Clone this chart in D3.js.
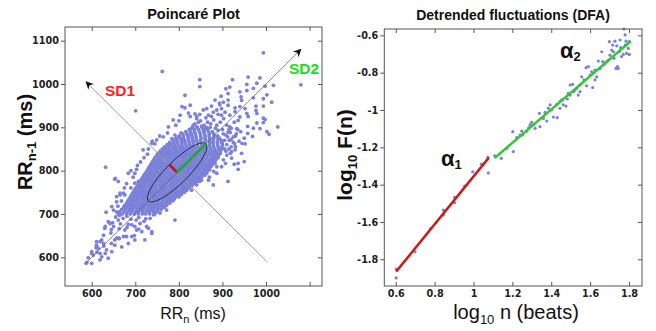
<!DOCTYPE html>
<html>
<head>
<meta charset="utf-8">
<script src="https://cdn.jsdelivr.net/npm/d3@7"></script>
<style>
	body { margin: 0; background: #fff; }
	text { font-family: 'Liberation Sans', Arial, sans-serif; fill: #111; }
	.tick text { font-family: 'DejaVu Sans', Verdana, sans-serif; font-weight: bold; font-size: 9.7px; fill: #222; }
	.tick line { stroke: #555; }
</style>
</head>
<body>
<svg id="chart" width="656" height="331"></svg>
<script>
// ---- Poincare plot data (RR_n, RR_n+1 in ms) ----
const rrTicks = [600, 700, 800, 900, 1000, 1100];
const rrTickLabels = ['600', '700', '800', '900', '1000', ''];

// dense core, one row per RR_n+1 value
const rrCoreRows = [
	[900, [831,842,853,863]],
	[895, [824,835,845,856,866]],
	[890, [816,826,836,847,857,868,877]],
	[885, [809,818,829,838,849,859,870,880]],
	[880, [801,810,820,830,839,850,860,869,881,889]],
	[875, [793,803,811,822,831,840,851,860,871,880,893]],
	[870, [786,795,805,813,822,832,841,850,861,870,879,890,898]],
	[865, [779,788,797,806,814,824,833,842,851,860,870,878,888,899]],
	[860, [773,781,790,798,807,816,825,833,843,852,861,870,879,889,900]],
	[855, [767,775,784,792,801,809,818,827,835,844,853,862,871,880,890,899]],
	[850, [762,770,778,787,795,804,812,821,830,838,847,856,864,873,882,891,898]],
	[845, [757,765,773,781,790,798,807,815,824,832,841,850,858,867,876,885,895]],
	[840, [752,760,769,776,785,793,801,810,818,827,835,844,853,861,870,879,887,894]],
	[835, [749,757,765,773,781,790,797,806,814,823,831,840,848,857,865,874,883,891]],
	[830, [745,754,761,769,778,785,793,802,809,817,826,833,841,850,857,865,874,881,888]],
	[825, [742,750,758,766,774,783,790,798,807,814,822,831,838,846,855,862,870,878,885]],
	[820, [739,747,755,763,772,779,787,796,803,811,820,827,835,844,851,859,868,875,882]],
	[815, [736,744,752,760,768,777,784,792,801,808,816,825,832,840,849,856,864,872,878]],
	[810, [733,741,749,757,766,773,781,790,797,805,814,821,829,838,845,853,862,869,874]],
	[805, [730,738,746,754,762,771,778,786,795,802,810,819,826,834,843,850,858,866,870]],
	[800, [727,735,743,751,760,767,775,784,791,799,808,815,823,832,839,847,856,862,866]],
	[795, [724,732,740,748,756,765,772,780,789,796,804,813,820,828,837,844,852,859,862]],
	[790, [720,728,736,744,753,760,768,777,784,792,801,808,816,825,832,840,849,856]],
	[785, [717,725,733,741,749,758,765,773,782,789,797,806,813,821,830,837,845,852]],
	[780, [714,722,730,738,747,754,762,771,778,786,795,802,810,819,826,834,842,847]],
	[775, [711,719,727,735,743,752,759,767,776,783,791,800,807,815,824,831,838,842]],
	[770, [708,716,724,733,740,748,757,764,772,781,788,796,805,812,820,829,836]],
	[765, [705,713,721,730,737,745,754,761,769,778,785,793,802,809,817,826,830]],
	[760, [701,709,717,725,734,741,749,758,765,773,782,789,797,806,813,820,824]],
	[755, [698,706,714,722,731,738,746,755,762,770,779,786,794,803,810,818]],
	[750, [695,703,711,718,727,735,742,751,759,766,775,783,790,799,807,812]],
	[745, [692,700,708,716,723,732,740,747,756,764,771,780,788,795,803,806]],
	[740, [689,697,704,713,721,728,737,745,752,761,769,776,785,793,800]],
	[735, [686,694,702,709,718,726,733,742,750,757,766,774,781,790]],
	[730, [683,691,699,706,715,723,730,739,747,754,763,771,779,786]],
	[725, [680,688,695,704,712,719,728,736,743,752,760,768,779]],
	[720, [676,685,692,700,709,716,724,733,741,748,757,765,772]],
	[715, [673,681,690,697,706,714,721,730,738,745,754,762,767]],
	[710, [668,677,686,694,703,711,718,727,735,742,751,759]],
	[705, [664,674,683,691,700,708,717,725,733,741,751]],
	[700, [661,670,680,689,698,707,716,724,733,745]]
];

const rrUpper = [
	[762,1029],[701,938],[814,974],[848,1010],[848,994],[814,945],[826,951],[822,933],[837,931],[841,920],[800,915],[793,905],
	[994,1072],[923,1010],[959,1016],[986,1014],[1080,998],[1017,997],[908,989],[917,993],[956,999],[956,985],[998,995],
	[897,972],[913,978],[940,982],[943,970],[944,962],[971,968],[994,966],[1013,958],[893,956],[902,958],[913,951],[929,945],
	[952,943],[977,949],[994,949],[864,943],[879,935],[890,930],[898,943],[906,935],[940,924],[959,925],[979,932],[977,939],
	[998,918],[936,916],[979,910],[958,902],[986,897],[1027,901],[1007,884],[969,879],[927,912],[933,897],[917,901],[913,889],
	[979,1002],[971,990],[1002,890],[994,921],[994,911],[971,898],[958,886],[1002,975],[913,963],[894,952],[883,963],
	[868,928],[856,940],[841,925],[826,925],[807,948],[803,928],[787,917],[776,901],[764,878],[749,871],[738,863],
	[940,948],[956,932],[929,936],[917,928],[898,928],[887,940],[875,949],
	[739,868],[774,887],[784,874],[791,882],[799,878],[805,887],[810,874],[822,882],[833,905],[837,908],[829,897],[841,901],[845,912],
	[850,915],[858,905],[866,912],[872,900],[880,917],[887,905],[895,912],[903,920],[910,905],[920,898],[875,925],[862,922],
	[848,930],[900,895],[890,893],[908,882],[918,888],[925,878],[932,885],[942,890],[950,875],[938,868],[928,862],[916,870],
	[860,895],[852,903],[873,908],[884,898]
];

const rrRight = [
	[945,863],[952,862],[950,821],[927,815],[936,803],[913,775],[907,817],[887,809],[887,794],[898,809],[921,844],[868,778],
	[852,778],[929,848],[910,836],[902,825],[883,817],[871,802],[860,790],[845,782],[936,817],[921,829],[944,840],[864,794],
	[879,767],[848,775],[841,767],[829,755],[814,751],[920,855],[915,850],[895,840],[905,850],[890,830],[880,798],[870,785],
	[905,870],[912,878],[898,865],[920,872],[930,880],[910,860],[925,865],[902,885],[915,895],[935,895],[890,875],[908,845],
	[918,840],[930,855]
];

const rrLowerRight = [
	[791,686],[772,725],[787,732],[749,717],[757,702],[734,690],[772,709],[738,659],[726,671],[711,678],[703,663],[692,648],
	[800,740],[808,760],[795,750],[822,768],[785,742],[760,720],[745,705],[768,735],[778,745],[815,775],[830,782],[825,790]
];

const rrLeft = [
	[632,808],[653,780],[661,775],[654,782],[684,794],[703,803],[699,794],[707,775],[699,771],[676,744],[665,744],[657,728],
	[657,740],[665,748],[650,709],[633,704],[673,748],[646,717],[657,705],[718,848],[715,755],[707,740],[690,760],[680,770],
	[695,785],[712,820],[720,830],[730,850],[705,812],[690,800],[675,760],[668,730],[660,718],[745,862],[756,880],[728,838]
];

const rrTail = [
	[661,686],[638,682],[650,671],[676,663],[692,675],[715,659],[730,667],[738,655],[722,640],[699,640],[684,632],[669,624],
	[653,640],[646,613],[631,609],[638,598],[642,678],[630,667],[627,651],[619,636],[611,628],[600,609],[592,599],[587,586],
	[600,586],[604,605],[600,613],[615,621],[611,636],[623,640],[627,632],[631,671],[673,648],[657,644],[653,628],[634,617],
	[619,609],[619,594],[623,601],[589,588],
	[655,693],[664,697],[672,690],[681,695],[690,688],[708,692],[724,689],[742,698],[648,680],[666,677],[684,676],[702,686],
	[720,683],[645,664],[663,666],[681,669],[699,671],[708,665],[644,656],[662,645],[680,648],[698,650],[645,632],[663,643],
	[610,622],[628,626],[612,612]
];

const rrCenter = 796;
const sd1 = 25;
const sd2 = 93;
const identityEnds = [585, 1080];
const perpEnds = [[1003, 589], [587, 1005]];

// ---- DFA data (log10 n, log10 F(n)) ----
const dfaXTicks = [0.6, 0.8, 1, 1.2, 1.4, 1.6, 1.8];
const dfaYTicks = [-0.6, -0.8, -1, -1.2, -1.4, -1.6, -1.8];

const alpha1Pts = [
	[0.602,-1.852],[0.602,-1.900],[0.699,-1.760],[0.778,-1.636],[0.845,-1.536],[0.845,-1.563],[0.903,-1.468],
	[0.903,-1.497],[0.954,-1.408],[0.996,-1.331],[1.041,-1.290],[1.076,-1.337],[1.074,-1.252]
];

const alpha2Pts = [
	[1.109,-1.245],[1.143,-1.259],[1.171,-1.205],[1.205,-1.223],[1.202,-1.116],[1.222,-1.148],[1.248,-1.113],[1.253,-1.134],
	[1.274,-1.113],[1.284,-1.095],[1.299,-1.066],[1.308,-1.080],[1.317,-1.098],[1.342,-1.089],[1.339,-1.018],[1.360,-1.045],
	[1.368,-1.013],[1.377,-1.059],[1.394,-0.973],[1.402,-1.000],[1.411,-1.038],[1.431,-1.041],[1.428,-0.970],[1.445,-0.991],
	[1.454,-0.946],[1.462,-0.973],[1.476,-0.979],[1.483,-0.941],[1.488,-0.911],[1.497,-0.866],[1.510,-0.863],[1.514,-0.902],
	[1.522,-0.893],[1.531,-0.884],[1.539,-0.920],[1.548,-0.866],[1.557,-0.822],[1.569,-0.839],[1.579,-0.773],[1.582,-0.870],
	[1.591,-0.768],[1.600,-0.813],[1.613,-0.880],[1.608,-0.795],[1.625,-0.786],[1.634,-0.822],[1.642,-0.738],[1.651,-0.777],
	[1.660,-0.688],[1.665,-0.741],[1.672,-0.756],[1.685,-0.741],[1.694,-0.732],[1.699,-0.634],[1.702,-0.706],[1.711,-0.679],
	[1.716,-0.652],[1.723,-0.723],[1.728,-0.631],[1.733,-0.777],[1.737,-0.656],[1.740,-0.768],[1.745,-0.777],[1.750,-0.688],
	[1.757,-0.666],[1.762,-0.714],[1.771,-0.702],[1.774,-0.566],[1.780,-0.598],[1.785,-0.631],[1.788,-0.697],[1.797,-0.670],
	[1.802,-0.702],[1.802,-0.634],
	[1.291,-1.080],[1.445,-0.955],[1.548,-0.902],[1.625,-0.839],[1.720,-0.688],[1.754,-0.625],[1.781,-0.652],[1.497,-0.920],
	[1.385,-0.991],[1.239,-1.134]
];

const alpha1Fit = [[0.602, -1.866], [1.079, -1.255]];
const alpha2Fit = [[1.109, -1.257], [1.809, -0.632]];

// ---- drawing ----
const svg = d3.select('#chart');
svg.append('rect').attr('width', 656).attr('height', 331).attr('fill', '#fff');

const defs = svg.append('defs');
defs.append('marker')
	.attr('id', 'arrow')
	.attr('viewBox', '0 0 10 10')
	.attr('refX', 9).attr('refY', 5)
	.attr('markerWidth', 8).attr('markerHeight', 8)
	.attr('markerUnits', 'userSpaceOnUse')
	.attr('orient', 'auto')
	.append('path')
	.attr('d', 'M0,0 L10,5 L0,10 L3,5 z')
	.attr('fill', '#111');

function frame(g, x, y) {
	let [x0, x1] = x.range(), [y0, y1] = y.range();
	g.append('rect')
		.attr('x', x0).attr('y', y1)
		.attr('width', x1 - x0).attr('height', y0 - y1)
		.attr('fill', 'none').attr('stroke', '#555').attr('stroke-width', 1);
}

function axes(g, x, y, xt, yt, xfmt, yfmt) {
	let [x0, x1] = x.range(), [y0, y1] = y.range();
	g.append('g').attr('transform', `translate(0,${y0})`)
		.call(d3.axisBottom(x).tickValues(xt).tickFormat(xfmt).tickSize(-4).tickPadding(4).tickSizeOuter(0))
		.call(a => a.select('.domain').remove());
	g.append('g').attr('transform', `translate(0,${y1})`)
		.call(d3.axisTop(x).tickValues(xt).tickFormat('').tickSize(-4).tickSizeOuter(0))
		.call(a => a.select('.domain').remove());
	g.append('g').attr('transform', `translate(${x0},0)`)
		.call(d3.axisLeft(y).tickValues(yt).tickFormat(yfmt).tickSize(4).tickPadding(2).tickSizeOuter(0))
		.call(a => a.select('.domain').remove());
	g.append('g').attr('transform', `translate(${x1},0)`)
		.call(d3.axisRight(y).tickValues(yt).tickFormat('').tickSize(-4).tickSizeOuter(0))
		.call(a => a.select('.domain').remove());
}

// Poincare panel
let xP = d3.scaleLinear().domain([538.7, 1128.5]).range([65, 322]),
	yP = d3.scaleLinear().domain([533.7, 1131.6]).range([286, 27]),
	gP = svg.append('g');

let rrPoints = rrCoreRows.flatMap(([y, xs]) => xs.map(x => [x, y]))
	.concat(rrUpper, rrRight, rrLowerRight, rrLeft, rrTail);

gP.append('g').selectAll('circle')
	.data(rrPoints)
	.enter()
	.append('circle')
	.attr('cx', d => xP(d[0]))
	.attr('cy', d => yP(d[1]))
	.attr('r', 1.9)
	.attr('fill', '#7b80d8');

gP.append('line')
	.attr('x1', xP(identityEnds[0])).attr('y1', yP(identityEnds[0]))
	.attr('x2', xP(identityEnds[1])).attr('y2', yP(identityEnds[1]))
	.attr('stroke', '#666').attr('stroke-width', 0.8)
	.attr('marker-end', 'url(#arrow)');

gP.append('line')
	.attr('x1', xP(perpEnds[0][0])).attr('y1', yP(perpEnds[0][1]))
	.attr('x2', xP(perpEnds[1][0])).attr('y2', yP(perpEnds[1][1]))
	.attr('stroke', '#999').attr('stroke-width', 1)
	.attr('marker-end', 'url(#arrow)');

let r2 = Math.SQRT1_2,
	ellipse = d3.range(0, 73).map(i => {
		let t = i / 72 * 2 * Math.PI,
			a = sd2 * Math.cos(t), b = sd1 * Math.sin(t);
		return [rrCenter + (a - b) * r2, rrCenter + (a + b) * r2];
	});

gP.append('path')
	.datum(ellipse)
	.attr('fill', 'none')
	.attr('stroke', '#222')
	.attr('stroke-width', 0.9)
	.attr('d', d3.line().x(d => xP(d[0])).y(d => yP(d[1])));

gP.append('line')
	.attr('x1', xP(rrCenter)).attr('y1', yP(rrCenter))
	.attr('x2', xP(rrCenter - sd1 * r2)).attr('y2', yP(rrCenter + sd1 * r2))
	.attr('stroke', '#c01010').attr('stroke-width', 2.5);

gP.append('line')
	.attr('x1', xP(rrCenter)).attr('y1', yP(rrCenter))
	.attr('x2', xP(rrCenter + sd2 * r2)).attr('y2', yP(rrCenter + sd2 * r2))
	.attr('stroke', '#1faa1f').attr('stroke-width', 2.5);

frame(gP, xP, yP);
axes(gP, xP, yP, rrTicks, rrTicks, (d, i) => rrTickLabels[i], d => String(d));

gP.append('text').attr('x', 105).attr('y', 96)
	.attr('font-size', 15.5).attr('font-weight', 'bold').style('fill', '#ff2222').text('SD1');
gP.append('text').attr('x', 289).attr('y', 74)
	.attr('font-size', 15.5).attr('font-weight', 'bold').style('fill', '#18e018').text('SD2');

gP.append('text').attr('x', 193.5).attr('y', 19)
	.attr('text-anchor', 'middle').attr('font-size', 14.5).attr('font-weight', 'bold')
	.text('Poincaré Plot');

let xl = gP.append('text').attr('x', 193).attr('y', 319)
	.attr('text-anchor', 'middle').attr('font-size', 16);
xl.append('tspan').text('RR');
xl.append('tspan').attr('font-size', 11).attr('dy', 4).text('n');
xl.append('tspan').attr('dy', -4).text(' (ms)');

let yl = gP.append('text').attr('transform', 'translate(32,142) rotate(-90)')
	.attr('text-anchor', 'middle').attr('font-size', 20).attr('font-weight', 'bold');
yl.append('tspan').text('RR');
yl.append('tspan').attr('font-size', 13).attr('dy', 4).text('n-1');
yl.append('tspan').attr('dy', -4).text(' (ms)');

// DFA panel
let xD = d3.scaleLinear().domain([0.541, 1.867]).range([384.3, 642]),
	yD = d3.scaleLinear().domain([-1.943, -0.566]).range([286, 29]),
	gD = svg.append('g');

gD.append('g').selectAll('circle')
	.data(alpha1Pts.concat(alpha2Pts))
	.enter()
	.append('circle')
	.attr('cx', d => xD(d[0]))
	.attr('cy', d => yD(d[1]))
	.attr('r', 1.6)
	.attr('fill', '#7b80d8');

let fitLine = d3.line().x(d => xD(d[0])).y(d => yD(d[1]));
gD.append('path').datum(alpha1Fit)
	.attr('fill', 'none').attr('stroke', '#cc1a1a').attr('stroke-width', 2.5)
	.attr('d', fitLine);
gD.append('path').datum(alpha2Fit)
	.attr('fill', 'none').attr('stroke', '#33c833').attr('stroke-width', 2.5)
	.attr('d', fitLine);

frame(gD, xD, yD);
axes(gD, xD, yD, dfaXTicks, dfaYTicks, d => String(d), d => String(d));

gD.append('text').attr('x', 513).attr('y', 19.5)
	.attr('text-anchor', 'middle').attr('font-size', 14).attr('font-weight', 'bold')
	.text('Detrended fluctuations (DFA)');

let a1 = gD.append('text').attr('x', 441).attr('y', 166).attr('font-size', 22).attr('font-weight', 'bold');
a1.append('tspan').text('α');
a1.append('tspan').attr('font-size', 13).attr('dy', 3).text('1');
let a2 = gD.append('text').attr('x', 560).attr('y', 58).attr('font-size', 22).attr('font-weight', 'bold');
a2.append('tspan').text('α');
a2.append('tspan').attr('font-size', 13).attr('dy', 3).text('2');

let dx = gD.append('text').attr('x', 516).attr('y', 319)
	.attr('text-anchor', 'middle').attr('font-size', 20);
dx.append('tspan').text('log');
dx.append('tspan').attr('font-size', 13).attr('dy', 5).text('10');
dx.append('tspan').attr('dy', -5).text(' n (beats)');

let dy = gD.append('text').attr('transform', 'translate(352,155) rotate(-90)')
	.attr('text-anchor', 'middle').attr('font-size', 21).attr('font-weight', 'bold');
dy.append('tspan').text('log');
dy.append('tspan').attr('font-size', 13).attr('dy', 5).text('10');
dy.append('tspan').attr('dy', -5).text(' F(n)');
</script>
</body>
</html>
